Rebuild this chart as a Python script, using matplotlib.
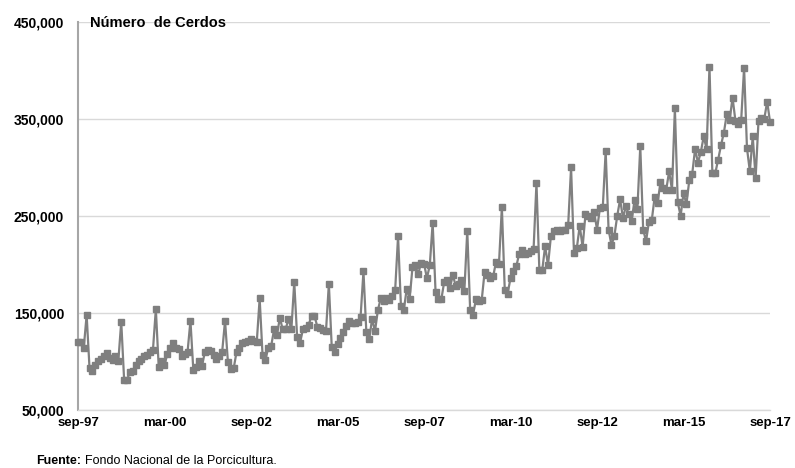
import numpy as np
import pandas as pd
import matplotlib
matplotlib.use("Agg")
import matplotlib.pyplot as plt

plt.rcParams['font.family'] = ['Liberation Sans', 'DejaVu Sans']

# Numero de cerdos mensual, sep-97 ... sep-17 (miles)
cerdos_miles = [
    120, 120, 114, 148, 93, 90, 96, 100, 103, 106, 109, 104,      # sep-97 .. aug-98
    102, 106, 101, 141, 81, 81, 89, 90, 96, 100, 103, 106,        # sep-98 .. aug-99
    107, 110, 112, 154, 94, 101, 96, 108, 114, 119, 114, 113,     # sep-99 .. aug-00
    106, 108, 110, 142, 91, 94, 101, 95, 110, 112, 111, 107,      # sep-00 .. aug-01
    103, 106, 110, 142, 99, 92, 93, 110, 114, 119, 120, 121,      # sep-01 .. aug-02
    123, 121, 120, 165, 107, 102, 114, 116, 133, 127, 145, 133,   # sep-02 .. aug-03
    133, 144, 133, 182, 125, 119, 133, 135, 138, 147, 147, 136,   # sep-03 .. aug-04
    134, 132, 131, 180, 115, 110, 118, 124, 130, 137, 142, 140,   # sep-04 .. aug-05
    140, 141, 146, 193, 130, 123, 144, 131, 153, 165, 162, 165,   # sep-05 .. aug-06
    163, 168, 174, 229, 157, 153, 175, 164, 197, 199, 190, 202,   # sep-06 .. aug-07
    201, 186, 199, 243, 172, 164, 164, 182, 184, 176, 189, 178,   # sep-07 .. aug-08
    180, 184, 173, 235, 153, 148, 164, 162, 163, 192, 189, 186,   # sep-08 .. aug-09
    188, 203, 201, 259, 174, 170, 186, 193, 198, 211, 215, 211,   # sep-09 .. aug-10
    212, 214, 216, 284, 194, 194, 219, 199, 229, 235, 236, 235,   # sep-10 .. aug-11
    236, 236, 241, 300, 212, 217, 240, 218, 252, 250, 248, 254,   # sep-11 .. aug-12
    236, 258, 259, 317, 236, 220, 229, 250, 267, 248, 260, 252,   # sep-12 .. aug-13
    245, 266, 257, 322, 236, 224, 244, 246, 270, 263, 285, 279,   # sep-13 .. aug-14
    277, 296, 277, 361, 264, 250, 274, 262, 287, 293, 319, 305,   # sep-14 .. aug-15
    316, 332, 319, 404, 294, 294, 308, 323, 336, 355, 349, 372,   # sep-15 .. aug-16
    348, 345, 349, 403, 320, 296, 332, 289, 348, 351, 350, 368,   # sep-16 .. aug-17
    347,                                                          # sep-17
]
meses = pd.date_range('1997-09-01', '2017-09-01', freq='MS')

etiquetas_x = ['sep-97', 'mar-00', 'sep-02', 'mar-05', 'sep-07',
               'mar-10', 'sep-12', 'mar-15', 'sep-17']
ticks_y = [50000, 150000, 250000, 350000, 450000]

valores = np.array(cerdos_miles) * 1000
idx = np.arange(len(meses))

fig = plt.figure(figsize=(7.95, 4.68), dpi=100)
ax = fig.add_axes([0.0981, 0.124, 0.8705, 0.829])

ax.plot(idx, valores, color='#808080', lw=1.6, marker='s', ms=4.4,
        mfc='#7f7f7f', mec='#7f7f7f', clip_on=False, zorder=3)

ax.set_xlim(0, len(meses) - 1)
ax.set_ylim(50000, 450000)
ax.set_yticks(ticks_y)
ax.set_yticklabels(['{:,}'.format(v) for v in ticks_y], fontsize=10, fontweight='bold')
ax.set_xticks(np.arange(0, len(meses), 30))
ax.set_xticklabels(etiquetas_x, fontsize=9.5, fontweight='bold')
ax.tick_params(axis='y', length=0, pad=10)
ax.tick_params(axis='x', length=0, pad=5)

ax.grid(axis='y', color='#d9d9d9', lw=1)
ax.set_axisbelow(True)
for s in ['top', 'right']:
    ax.spines[s].set_visible(False)
ax.spines['left'].set_color('#a6a6a6')
ax.spines['left'].set_linewidth(1.5)
ax.spines['bottom'].set_color('#d9d9d9')
ax.spines['bottom'].set_linewidth(1)

ax.text(0.018, 0.997, 'Número  de Cerdos', transform=ax.transAxes,
        fontsize=10.5, fontweight='bold', va='center', ha='left')

fig.text(0.046, 0.015, 'Fuente:', fontsize=9, fontweight='bold', va='center')
fig.text(0.107, 0.015, 'Fondo Nacional de la Porcicultura.', fontsize=9, va='center')

fig.savefig('out.png', dpi=100)
